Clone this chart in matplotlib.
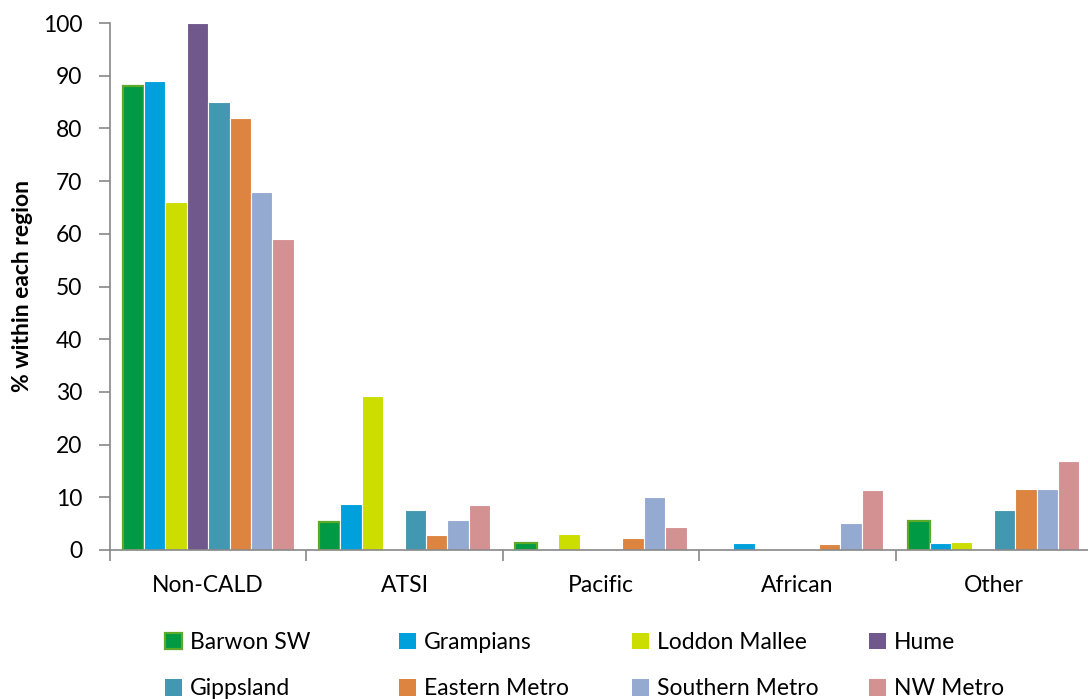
import matplotlib
matplotlib.use("Agg")
import matplotlib.pyplot as plt
from matplotlib.patches import Patch
import numpy as np

plt.rcParams['font.family'] = ['Lato', 'DejaVu Sans']

categories = ["Non-CALD", "ATSI", "Pacific", "African", "Other"]
regions = ["Barwon SW", "Grampians", "Loddon Mallee", "Hume",
           "Gippsland", "Eastern Metro", "Southern Metro", "NW Metro"]

barwon_sw = [88, 5.4, 1.4, 0, 5.5]
grampians = [89, 8.7, 0, 1.3, 1.3]
loddon_mallee = [66, 29.2, 3.0, 0, 1.5]
hume = [100, 0, 0, 0, 0]
gippsland = [85, 7.6, 0, 0, 7.6]
eastern_metro = [82, 2.8, 2.2, 1.1, 11.5]
southern_metro = [68, 5.6, 10.1, 5.1, 11.5]
nw_metro = [59, 8.5, 4.3, 11.4, 16.9]

series = [barwon_sw, grampians, loddon_mallee, hume,
          gippsland, eastern_metro, southern_metro, nw_metro]
colors = ["#009A44", "#00A0DC", "#CCDD00", "#70588C",
          "#4298B0", "#DD8440", "#95AAD0", "#D39192"]
edges = ["#5DAA2A", "white", "white", "white",
         "white", "white", "white", "white"]
edge_w = [1.6, 0.8, 0.8, 0.8, 0.8, 0.8, 0.8, 0.8]

FS = 16.5

fig = plt.figure(figsize=(10.88, 6.99), dpi=100)
ax = fig.add_axes([110 / 1088, 149 / 699, 982 / 1088, 527 / 699])

n = len(series)
bw = 0.109
x = np.arange(len(categories))
for i, (vals, c, ec, lw) in enumerate(zip(series, colors, edges, edge_w)):
    offs = (i - (n - 1) / 2) * bw
    v = np.array(vals, dtype=float)
    # zero-valued bars are left out so their outline does not show
    v = np.where(v > 0, v, np.nan)
    ax.bar(x + offs, v, width=bw, color=c, edgecolor=ec, linewidth=lw,
           label=regions[i], zorder=2)

ax.set_xlim(-0.5, len(categories) - 0.5)
ax.set_ylim(0, 100)
ax.set_yticks(range(0, 101, 10))
ax.tick_params(axis='y', labelsize=FS, color='#888888', length=8,
               width=1.2, direction='out', pad=12)
ax.set_xticks(x)
ax.set_xticklabels(categories, fontsize=FS)
ax.set_xticks(np.arange(-0.5, len(categories)), minor=True)
ax.tick_params(axis='x', which='major', length=0, pad=18)
ax.tick_params(axis='x', which='minor', length=8, width=1.2, color='#888888')
for s in ['top', 'right']:
    ax.spines[s].set_visible(False)
for s in ['left', 'bottom']:
    ax.spines[s].set_color('#888888')
    ax.spines[s].set_linewidth(1.2)

ax.set_ylabel("% within each region", fontsize=16.5, fontweight='bold')
ax.yaxis.set_label_coords((33 - 110) / 982, 0.5)

# legend: two rows of four equal-width columns
col_x = [165, 399, 632, 869]
for j in range(4):
    hs = []
    for k in (j, j + 4):
        hs.append(Patch(facecolor=colors[k],
                        edgecolor=edges[k] if k == 0 else colors[k],
                        linewidth=1.6 if k == 0 else 0, label=regions[k]))
    fig.legend(handles=hs, loc='upper left',
               bbox_to_anchor=(col_x[j] / 1088, 1 - 632 / 699),
               frameon=False, fontsize=FS, handlelength=0.75,
               handleheight=0.75, handletextpad=0.35, labelspacing=1.1,
               borderpad=0, borderaxespad=0)

fig.savefig("out.png", dpi=100)
